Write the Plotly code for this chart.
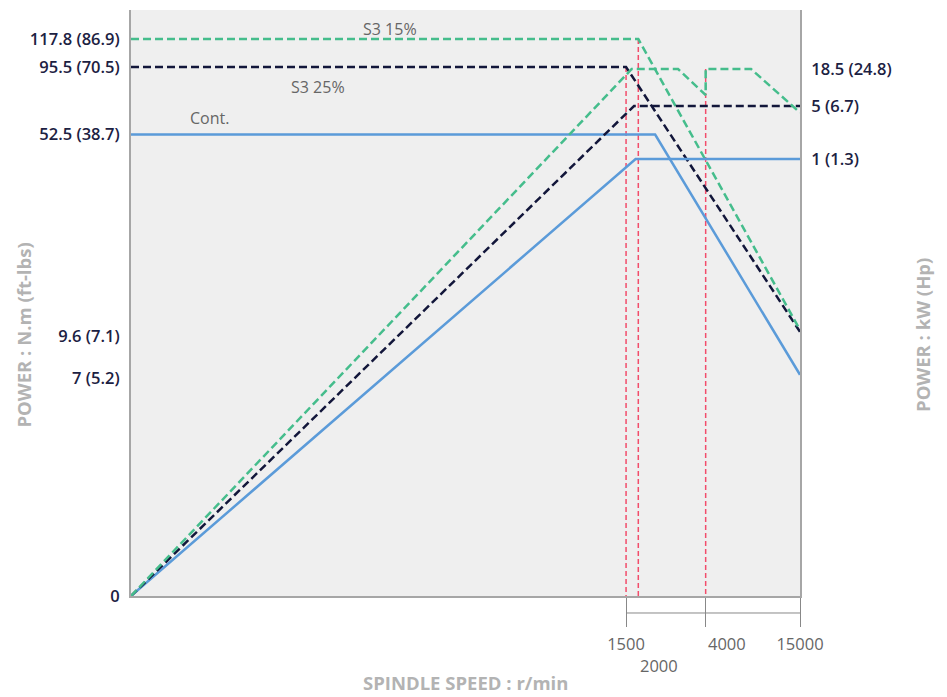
import numpy as np
import plotly.graph_objects as go

# ---------------- axis tick values / labels ----------------
RPM_TICKS = [0, 1500, 2000, 4000, 15000]
TORQUE_TICKS = [0, 7, 9.6, 52.5, 95.5, 117.8]
TORQUE_LABELS = ["0", "7 (5.2)", "9.6 (7.1)", "52.5 (38.7)", "95.5 (70.5)", "117.8 (86.9)"]
POWER_TICKS = [1, 5, 18.5]
POWER_LABELS = ["1 (1.3)", "5 (6.7)", "18.5 (24.8)"]

# ---------------- series (rpm, N.m / kW) ----------------
cont_torque_rpm = [0, 2500, 15000]
cont_torque = [52.5, 52.5, 7.2]
s325_torque_rpm = [0, 1500, 15000]
s325_torque = [95.5, 95.5, 10.5]
s315_torque_rpm = [0, 2000, 15000]
s315_torque = [117.8, 117.8, 10.9]

cont_power_rpm = [0, 1890, 15000]
cont_power = [0, 1, 1]
s325_power_rpm = [0, 1825, 15000]
s325_power = [0, 5, 5]
s315_power_rpm = [0, 1730, 3180, 4000, 4000, 9290, 15000]
s315_power = [0, 18.5, 18.5, 9.0, 18.5, 18.5, 4.5]

# ---------------- schematic (non-linear) axis scales ----------------
# axis position (0-100) of each tick value
X_SCALE_POS = [0, 74.0, 75.83, 85.9, 100]
TORQUE_SCALE_POS = [0, 37.2, 44.37, 78.75, 90.27, 95.05]
POWER_SCALE_POS = [0, 74.57, 83.62, 89.93]
POWER_SCALE_VAL = [0] + POWER_TICKS


def xs(v):
    return np.interp(v, RPM_TICKS, X_SCALE_POS)


def ts(v):
    return np.interp(v, TORQUE_TICKS, TORQUE_SCALE_POS)


def ps(v):
    return np.interp(v, POWER_SCALE_VAL, POWER_SCALE_POS)


GREEN = "#45bd8c"
NAVY = "#12163a"
BLUE = "#5b9bd9"
RED = "#f24d6b"
DASH = "8px,4px"

fig = go.Figure()

# red reference lines (from knee values)
for rpm, top in [(1500, ts(95.5)), (2000, ts(117.8)), (4000, ps(18.5))]:
    fig.add_trace(go.Scatter(x=xs([rpm, rpm]), y=[top, 0], mode="lines",
                             line=dict(color=RED, width=1.5, dash="5px,3px"),
                             hoverinfo="skip", showlegend=False))

# power curves (right axis)
fig.add_trace(go.Scatter(x=xs(cont_power_rpm), y=ps(cont_power), mode="lines",
                         line=dict(color=BLUE, width=2.5), yaxis="y2", showlegend=False))
fig.add_trace(go.Scatter(x=xs(s325_power_rpm), y=ps(s325_power), mode="lines",
                         line=dict(color=NAVY, width=2.5, dash=DASH), yaxis="y2", showlegend=False))
fig.add_trace(go.Scatter(x=xs(s315_power_rpm), y=ps(s315_power), mode="lines",
                         line=dict(color=GREEN, width=2.5, dash=DASH), yaxis="y2", showlegend=False))

# torque curves (left axis)
fig.add_trace(go.Scatter(x=xs(cont_torque_rpm), y=ts(cont_torque), mode="lines",
                         line=dict(color=BLUE, width=2.5), showlegend=False))
fig.add_trace(go.Scatter(x=xs(s325_torque_rpm), y=ts(s325_torque), mode="lines",
                         line=dict(color=NAVY, width=2.5, dash=DASH), showlegend=False))
fig.add_trace(go.Scatter(x=xs(s315_torque_rpm), y=ts(s315_torque), mode="lines",
                         line=dict(color=GREEN, width=2.5, dash=DASH), showlegend=False))

LABEL_FONT = dict(family="Open Sans", size=16.5, color="#1c2142", weight=600)
XLAB_FONT = dict(family="Open Sans", size=16.5, color="#666666")
TITLE_FONT = dict(family="Open Sans", size=18.5, color="#b3b3b3", weight=700)

x_tick_rpm = [1500, 4000, 15000]
x_tick_text = ["1500", "", "15000"]

fig.update_layout(
    width=947, height=697,
    margin=dict(l=123, r=155, t=2, b=109),
    paper_bgcolor="white", plot_bgcolor="#efefef",
    xaxis=dict(range=[0, 100], showgrid=False, zeroline=False,
               showline=True, linecolor="#a6a6a6", linewidth=2,
               tickmode="array", tickvals=list(xs(x_tick_rpm)), ticktext=x_tick_text,
               ticks="outside", ticklen=29, tickwidth=1, tickcolor="#888888",
               ticklabelstandoff=3, tickfont=XLAB_FONT),
    yaxis=dict(range=[0, 100], showgrid=False, zeroline=False,
               showline=True, linecolor="#a6a6a6", linewidth=2,
               tickmode="array", tickvals=list(ts(TORQUE_TICKS)), ticktext=TORQUE_LABELS,
               ticks="", tickfont=LABEL_FONT, ticklabelstandoff=6),
    yaxis2=dict(range=[0, 100], overlaying="y", side="right", showgrid=False, zeroline=False,
                showline=True, linecolor="#a6a6a6", linewidth=2,
                tickmode="array", tickvals=list(ps(POWER_TICKS)), ticktext=POWER_LABELS,
                ticks="", tickfont=LABEL_FONT, ticklabelstandoff=6),
)

# bracket line under x axis
fig.add_shape(type="line", xref="x", yref="paper",
              x0=xs(1500), x1=xs(15000), y0=-0.029, y1=-0.029,
              line=dict(color="#888888", width=1))

annos = [
    dict(text="4000", x=xs(4000), y=-0.0805, xanchor="left", yanchor="middle", font=XLAB_FONT),
    dict(text="2000", x=xs(2000), y=-0.118, xanchor="left", yanchor="middle", font=XLAB_FONT),
]
for a in annos:
    fig.add_annotation(xref="x", yref="paper", showarrow=False, **a)

series_labels = [("S3 15%", 0.387, 0.9676), ("S3 25%", 0.2795, 0.8686), ("Cont.", 0.118, 0.8157)]
for t, x, y in series_labels:
    fig.add_annotation(text=t, xref="paper", yref="paper", x=x, y=y, showarrow=False,
                       xanchor="center", yanchor="middle",
                       font=dict(family="Open Sans", size=16, color="#666666"))

fig.add_annotation(text="POWER : N.m (ft-lbs)", xref="paper", yref="paper", x=-0.161, y=0.445,
                   textangle=-90, showarrow=False, font=TITLE_FONT, xanchor="center", yanchor="middle")
fig.add_annotation(text="POWER : kW (Hp)", xref="paper", yref="paper", x=1.182, y=0.445,
                   textangle=-90, showarrow=False, font=TITLE_FONT, xanchor="center", yanchor="middle")
fig.add_annotation(text="SPINDLE SPEED : r/min", xref="paper", yref="paper", x=0.5, y=-0.147,
                   showarrow=False, font=TITLE_FONT, xanchor="center", yanchor="middle")

fig.write_html("out.html")
